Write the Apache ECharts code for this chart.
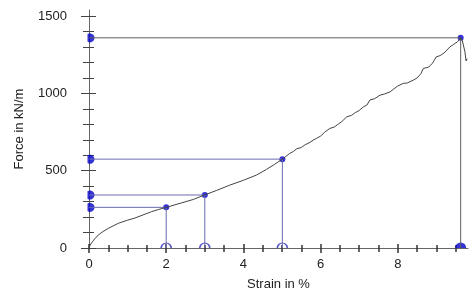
<!DOCTYPE html>
<html>
<head>
<meta charset="utf-8">
<title>Force - Strain</title>
<script src="https://cdn.jsdelivr.net/npm/echarts@6/dist/echarts.min.js"></script>
<style>
	html, body { margin: 0; padding: 0; background: #fff; }
	#chart { width: 470px; height: 291px; }
</style>
</head>
<body>
<div id="chart"></div>
<script type="text/javascript">
	// measured curve (strain in %, force in kN/m)
	var strain = [0, 0.03, 0.07, 0.15, 0.24, 0.36, 0.5, 0.76, 1.0, 1.19, 1.4, 1.62, 1.8, 2.0, 2.36, 2.7, 2.99, 3.3, 3.65, 4.0, 4.34, 4.6, 4.8, 5.01, 5.1, 5.2, 5.3, 5.38, 5.5, 5.6, 5.7, 5.81, 5.9, 6.0, 6.1, 6.24, 6.35, 6.45, 6.55, 6.68, 6.8, 6.9, 7.0, 7.11, 7.2, 7.28, 7.4, 7.54, 7.65, 7.8, 7.9, 8.0, 8.14, 8.25, 8.4, 8.5, 8.6, 8.66, 8.8, 8.9, 9.0, 9.1, 9.2, 9.35, 9.45, 9.55, 9.63, 9.67, 9.7, 9.74, 9.77, 9.8];
	var force = [0, 18, 34, 60, 84, 106, 127, 160, 180, 194, 214, 235, 249, 263, 289, 314, 343, 372, 407, 438, 472, 509, 540, 575, 592, 612, 625, 642, 650, 668, 680, 698, 710, 724, 748, 774, 782, 800, 818, 849, 858, 876, 890, 913, 925, 958, 966, 989, 996, 1010, 1030, 1048, 1065, 1068, 1086, 1100, 1128, 1162, 1170, 1196, 1237, 1245, 1262, 1301, 1318, 1335, 1360, 1345, 1350, 1270, 1210, 1225];

	// evaluated points
	var markStrain = [2.0, 3.0, 5.01, 9.63];
	var markForce = [263, 343, 575, 1360];

	// axis ticks and labels
	var xLabels = [0, 2, 4, 6, 8];
	var xMinor = [0.5, 1, 1.5, 2.5, 3, 3.5, 4.5, 5, 5.5, 6.5, 7, 7.5, 8.5, 9, 9.5];
	var yLabels = [0, 500, 1000, 1500];
	var yMinor = [100, 200, 300, 400, 600, 700, 800, 900, 1100, 1200, 1300, 1400];

	var FONT = 'Liberation Sans';
	var BLUE = '#0000cc';
	var REF_BLUE = '#6b6bb0';
	var REF_GREY = '#606060';

	var curve = [];
	for (var i = 0; i < strain.length; i++) curve.push([strain[i], force[i]]);

	function plain(v) { return String(v); }

	function xAx(ticks, len, inside, main) {
		var ax = {
			type: 'value', min: 0, max: 9.82, position: 'bottom',
			splitLine: { show: false },
			axisLine: { show: main, onZero: false },
			axisTick: { show: true, inside: inside, length: len, customValues: ticks, lineStyle: { color: '#333', width: 1.5 } },
			axisLabel: main ? { show: true, customValues: xLabels, formatter: plain, margin: 10, color: '#222', fontSize: 13, fontFamily: FONT } : { show: false }
		};
		if (main) {
			ax.axisLine.lineStyle = { color: '#666', width: 1 };
			ax.name = 'Strain in %';
			ax.nameLocation = 'middle';
			ax.nameGap = 30;
			ax.nameTextStyle = { color: '#222', fontSize: 13, fontFamily: FONT };
		}
		return ax;
	}
	function yAx(ticks, len, inside, main) {
		var ax = {
			type: 'value', min: 0, max: 1540, position: 'left',
			splitLine: { show: false },
			axisLine: { show: main, onZero: false },
			axisTick: { show: true, inside: inside, length: len, customValues: ticks, lineStyle: { color: '#444', width: 1 } },
			axisLabel: main ? { show: true, customValues: yLabels, formatter: plain, margin: 22, color: '#222', fontSize: 13, fontFamily: FONT } : { show: false }
		};
		if (main) {
			ax.axisLine.lineStyle = { color: '#666', width: 1 };
			ax.name = 'Force in kN/m';
			ax.nameLocation = 'middle';
			ax.nameGap = 63;
			ax.nameTextStyle = { color: '#222', fontSize: 13, fontFamily: FONT };
		}
		return ax;
	}

	var series = [];
	// reference lines: from force axis to point, then down to strain axis
	for (var k = 0; k < markStrain.length; k++) {
		series.push({
			type: 'line', silent: true, symbol: 'none', animation: false,
			lineStyle: { color: k == 3 ? REF_GREY : REF_BLUE, width: 1 },
			data: [[0, markForce[k]], [markStrain[k], markForce[k]], [markStrain[k], 0]]
		});
	}
	series.push({
		type: 'line', symbol: 'none', animation: false,
		lineStyle: { color: '#444', width: 1 },
		data: curve
	});
	series.push({
		type: 'scatter', symbol: 'circle', symbolSize: 6, animation: false,
		itemStyle: { color: BLUE },
		data: markStrain.map(function (s, i) { return [s, markForce[i]]; })
	});
	// markers on the force axis
	series.push({
		type: 'scatter', animation: false, clip: false,
		symbol: 'path://M-2.5,-3.74 A4.5,4.5 0 1,1 -2.5,3.74 Z',
		symbolSize: [7, 9], symbolOffset: [2, 0],
		itemStyle: { color: BLUE },
		data: markForce.map(function (f) { return [0, f]; })
	});
	// open markers on the strain axis
	series.push({
		type: 'scatter', animation: false, clip: false,
		symbol: 'path://M0,10 A10,10 0 0,1 20,10',
		symbolSize: [10, 5], symbolOffset: [0, -2.5],
		itemStyle: { color: 'none', borderColor: '#2a2ab8', borderWidth: 1.2 },
		data: markStrain.slice(0, 3).map(function (s) { return [s, 0]; })
	});
	// filled marker at break
	series.push({
		type: 'scatter', animation: false, clip: false,
		symbol: 'path://M0,10 A10,10 0 0,1 20,10 Z',
		symbolSize: [11, 5.5], symbolOffset: [0, -2.75],
		itemStyle: { color: BLUE },
		data: [[markStrain[3], 0]]
	});

	var option = {
		backgroundColor: '#fff',
		animation: false,
		grid: { left: 89, right: 2, top: 10, bottom: 43, outerBoundsMode: 'none' },
		xAxis: [
			xAx(xLabels, 5, false, true),
			xAx(xLabels, 4, true, false),
			xAx(xMinor, 4, false, false),
			xAx(xMinor, 3, true, false)
		],
		yAxis: [
			yAx(yLabels, 8, false, true),
			yAx(yLabels, 7, true, false),
			yAx(yMinor, 6, false, false),
			yAx(yMinor, 5, true, false)
		],
		series: series
	};

	var myChart = echarts.init(document.getElementById('chart'));
	myChart.setOption(option);
</script>
</body>
</html>
